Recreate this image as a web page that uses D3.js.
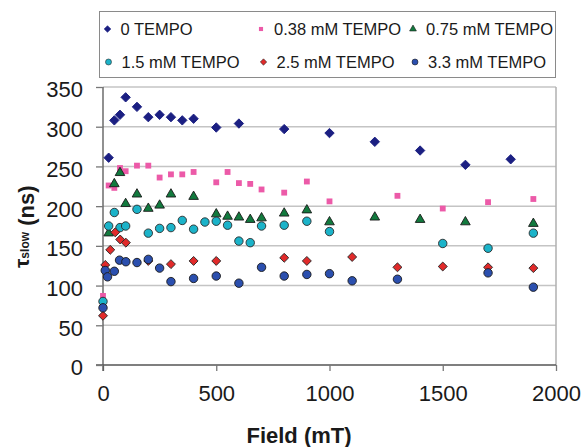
<!DOCTYPE html>
<html>
<head>
<meta charset="utf-8">
<script src="https://cdn.jsdelivr.net/npm/d3@7"></script>
<style>
  html, body { margin: 0; padding: 0; background: #fff; }
  svg { display: block; font-family: "Liberation Sans", Arial, sans-serif; }
</style>
</head>
<body>
<svg id="chart" width="585" height="447"></svg>
<script>
// ---------- data (field in mT, tau_slow in ns) ----------
const seriesNames = ["0 TEMPO", "0.38 mM TEMPO", "0.75 mM TEMPO", "1.5 mM TEMPO", "2.5 mM TEMPO", "3.3 mM TEMPO"];

const tempo0 = [[25,261],[50,308],[75,315],[100,337],[150,325],[200,312],[250,315],[300,312],[350,308],[400,310],[500,299],[600,304],[800,297],[1000,292],[1200,281],[1400,270],[1600,252],[1800,259]];

const tempo038 = [[0,87],[25,226],[50,223],[75,248],[100,244],[150,251],[200,251],[250,236],[300,240],[350,240],[400,243],[500,230],[550,243],[600,229],[650,228],[700,221],[800,217],[900,231],[1000,206],[1300,213],[1500,197],[1700,205],[1900,209]];

const tempo075 = [[25,166],[50,228],[75,242],[100,203],[150,215],[200,197],[250,201],[300,215],[400,212],[500,190],[550,187],[600,186],[650,183],[700,185],[800,191],[900,195],[1000,180],[1200,186],[1400,183],[1600,180],[1900,178]];

const tempo15 = [[0,80],[25,175],[50,192],[75,173],[100,175],[150,196],[200,166],[250,172],[300,173],[350,182],[400,171],[450,180],[500,181],[550,176],[600,156],[650,154],[700,175],[800,176],[900,181],[1000,168],[1500,153],[1700,147],[1900,166]];

const tempo25 = [[0,62],[10,126],[32,145],[54,167],[76,158],[101,154],[200,131],[300,127],[400,131],[500,131],[800,135],[900,131],[1100,136],[1300,123],[1500,124],[1700,123],[1900,122]];

const tempo33 = [[0,72],[10,119],[20,111],[50,118],[73,132],[101,130],[150,129],[200,133],[250,122],[300,105],[400,109],[500,112],[600,103],[700,123],[800,112],[900,114],[1000,115],[1100,106],[1300,108],[1700,116],[1900,98]];

const xTicks = [0, 500, 1000, 1500, 2000];
const yTicks = [0, 50, 100, 150, 200, 250, 300, 350];

// ---------- styles ----------
const styles = [
  { shape: "diamond",  fill: "#1b1f82", stroke: "#1b1f82", size: 44 },
  { shape: "square",   fill: "#ec5aa8", stroke: "none",    size: 34 },
  { shape: "triangle", fill: "#127a3e", stroke: "#1a1a1a", size: 40 },
  { shape: "circle",   fill: "#1bb3c9", stroke: "#2a2a2a", size: 56 },
  { shape: "diamond",  fill: "#e12a2a", stroke: "#2a2a2a", size: 40 },
  { shape: "circle",   fill: "#2b4fae", stroke: "#1a1a1a", size: 56 }
];
const allSeries = [tempo0, tempo038, tempo075, tempo15, tempo25, tempo33];

const svg = d3.select("#chart");
const x = d3.scaleLinear().domain([0, 2000]).range([103, 556]);
const y = d3.scaleLinear().domain([0, 350]).range([365, 87]);

function symPath(shape, size) {
  if (shape === "circle") return d3.symbol(d3.symbolCircle, size)();
  if (shape === "triangle") return d3.symbol(d3.symbolTriangle, size)();
  return d3.symbol(d3.symbolSquare, size)();
}
function symRot(shape) { return shape === "diamond" ? 45 : 0; }

// gridlines
svg.append("g").selectAll("line").data(yTicks.filter(d => d > 0)).join("line")
  .attr("x1", 103).attr("x2", 556)
  .attr("y1", d => y(d)).attr("y2", d => y(d))
  .attr("stroke", "#c4c4c4").attr("stroke-width", 1.5);

// right border of plot
svg.append("line").attr("x1", 556).attr("x2", 556).attr("y1", y(350)).attr("y2", y(0))
  .attr("stroke", "#b0b0b0").attr("stroke-width", 1.5);

// axes
const xAxis = d3.axisBottom(x).tickValues(xTicks).tickSize(6).tickPadding(14).tickFormat(d3.format("d"));
const gx = svg.append("g").attr("transform", `translate(0,${y(0)})`).call(xAxis);
gx.select(".domain").attr("stroke", "#555").attr("stroke-width", 1.3).attr("d", `M96,0H556`);
gx.selectAll(".tick line").attr("stroke", "#777").attr("stroke-width", 1.3);
gx.selectAll(".tick text").attr("font-size", 22).attr("fill", "#1a1a1a")
  .attr("font-family", "Liberation Sans, Arial, sans-serif");

const yAxis = d3.axisLeft(y).tickValues(yTicks).tickSize(7).tickPadding(13).tickFormat(d3.format("d"));
const gy = svg.append("g").attr("transform", `translate(${x(0)},0)`).call(yAxis);
gy.select(".domain").attr("stroke", "#555").attr("stroke-width", 1.3).attr("d", `M0,${y(350)}V${y(0)+6}`);
gy.selectAll(".tick line").attr("stroke", "#777").attr("stroke-width", 1.3);
gy.selectAll(".tick text").attr("font-size", 22).attr("fill", "#1a1a1a").attr("dy", "0.45em")
  .attr("font-family", "Liberation Sans, Arial, sans-serif");

// data markers
allSeries.forEach((data, i) => {
  const st = styles[i];
  svg.append("g").selectAll("path").data(data).join("path")
    .attr("d", symPath(st.shape, st.size))
    .attr("transform", d => `translate(${x(d[0])},${y(d[1])}) rotate(${symRot(st.shape)})`)
    .attr("fill", st.fill)
    .attr("stroke", st.stroke)
    .attr("stroke-width", st.stroke === "none" ? 0 : 0.9);
});

// axis titles
svg.append("text").attr("x", 299).attr("y", 443).attr("text-anchor", "middle")
  .attr("font-size", 22).attr("font-weight", "bold").attr("fill", "#1a1a1a")
  .text("Field (mT)");

const yt = svg.append("text").attr("transform", "rotate(-90)")
  .attr("x", -268).attr("y", 29).attr("font-weight", "bold").attr("fill", "#1a1a1a");
yt.append("tspan").attr("font-size", 21).text("τ");
yt.append("tspan").attr("font-size", 12).text("slow");
yt.append("tspan").attr("font-size", 22).attr("dy", 5).text(" (ns)");

// legend
const lg = svg.append("g");
lg.append("rect").attr("x", 99.5).attr("y", 11.5).attr("width", 456).attr("height", 66)
  .attr("fill", "#fff").attr("stroke", "#8a8a8a").attr("stroke-width", 1);
const legPos = [
  [107.5, 29], [261, 29], [413, 29],
  [108.5, 62], [263.5, 62], [415, 62]
];
seriesNames.forEach((name, i) => {
  const st = styles[i];
  const [lx, ly] = legPos[i];
  lg.append("path").attr("d", symPath(st.shape, st.size * 0.5))
    .attr("transform", `translate(${lx},${ly}) rotate(${symRot(st.shape)})`)
    .attr("fill", st.fill).attr("stroke", st.stroke)
    .attr("stroke-width", st.stroke === "none" ? 0 : 0.6);
  lg.append("text").attr("x", lx + 13).attr("y", ly + 6)
    .attr("font-size", 16.5).attr("fill", "#1a1a1a").text(name);
});
</script>
</body>
</html>
